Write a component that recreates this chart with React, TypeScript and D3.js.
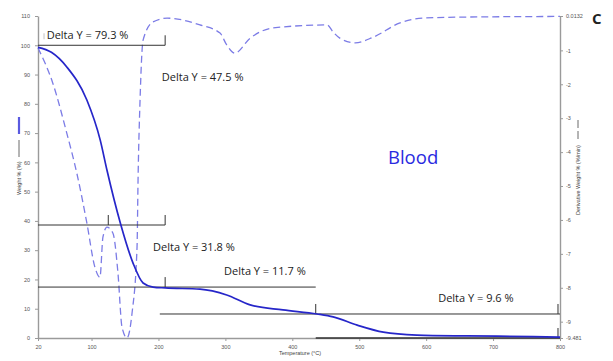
import React, { useEffect, useRef } from 'react';
import * as d3 from 'd3';

// Weight % curve (temperature °C, weight %)
const weightTemp = [20, 40, 63, 93, 113, 123, 143, 162, 177, 192, 210, 262, 302, 337, 386, 437, 461, 497, 536, 586, 661, 760, 800];
const weightVals = [99.3, 97.6, 92.6, 81.3, 67.6, 57.4, 39.3, 25.6, 18.8, 17.4, 17.1, 16.7, 14.7, 11.3, 9.6, 8.2, 7.2, 4.4, 2.0, 1.0, 0.7, 0.5, 0.3];

// Derivative weight curve (temperature °C, %/min)
const derivTemp = [20, 42, 63, 78, 93, 105, 112.6, 117, 123, 132, 139.5, 145.5, 153, 160.5, 168, 169.5, 172.5, 177, 192, 213, 262, 292, 302, 314, 337, 371, 452, 461, 471, 494, 521, 561, 595, 651, 800];
const derivVals = [-0.93, -1.96, -3.44, -4.62, -6.09, -7.39, -7.69, -6.51, -6.21, -6.39, -7.57, -9.16, -9.48, -8.75, -6.8, -4.82, -2.46, -0.7, -0.16, -0.05, -0.25, -0.49, -0.84, -1.08, -0.64, -0.34, -0.25, -0.46, -0.64, -0.78, -0.61, -0.19, -0.05, -0.02, 0.0];

// Axis ticks
const tempTicks = [20, 100, 200, 300, 400, 500, 600, 700, 800];
const weightTicks = [0, 10, 20, 30, 40, 50, 60, 70, 80, 90, 100, 110];
const derivTicks = [0.0132, -1, -2, -3, -4, -5, -6, -7, -8, -9, -9.481];

// Delta Y brackets: level (weight %), from / to temperature, tick temperatures
const bracketLevels = [100, 38.6, 17.4, 8.2, 0];
const bracketFrom = [20, 20, 20, 202, 435];
const bracketTo = [210, 210, 435, 800, 800];
const bracketTicks = [[210], [125, 210], [210], [435, 797], [797]];

// Delta Y labels
const deltaLabels = ['Delta Y = 79.3 %', 'Delta Y = 47.5 %', 'Delta Y = 31.8 %', 'Delta Y = 11.7 %', 'Delta Y = 9.6 %'];
const deltaTemp = [33, 205, 192, 298, 618];
const deltaWeight = [102.3, 87.8, 29.7, 21.5, 12.3];

const App = () => {
    const svgRef = useRef<SVGSVGElement | null>(null);

    useEffect(() => {
        const width = 613;
        const height = 361;
        const left = 38;
        const right = 560;
        const top = 16;
        const bottom = 338;
        const axisColor = '#9a9a9a';
        const tickText = '#555';
        const font = "'Open Sans', 'Liberation Sans', sans-serif";

        const svg = d3.select(svgRef.current);
        svg.selectAll('*').remove();
        svg.attr('width', width).attr('height', height);

        const x = d3.scaleLinear().domain([20, 800]).range([left, right]);
        const yW = d3.scaleLinear().domain([0, 110]).range([bottom, top]);
        const yD = d3.scaleLinear().domain([-9.481, 0.0132]).range([bottom, top]);

        // axes
        const styleAxis = (g: any) => {
            g.select('.domain').attr('stroke', axisColor).attr('stroke-width', 1.4);
            g.selectAll('.tick line').attr('stroke', axisColor);
            g.selectAll('.tick text')
                .attr('fill', tickText)
                .style('font-size', '5.5px')
                .style('font-family', "'Liberation Sans', sans-serif");
        };

        svg.append('g')
            .attr('transform', `translate(${left},0)`)
            .call(d3.axisLeft(yW).tickValues(weightTicks).tickSize(3).tickSizeOuter(0).tickPadding(5))
            .call(styleAxis);

        svg.append('g')
            .attr('transform', `translate(0,${bottom})`)
            .call(d3.axisBottom(x).tickValues(tempTicks).tickSize(3).tickSizeOuter(0).tickPadding(4))
            .call(styleAxis);

        svg.append('g')
            .attr('transform', `translate(${right},0)`)
            .call(d3.axisRight(yD).tickValues(derivTicks).tickSize(3).tickSizeOuter(0).tickPadding(3)
                .tickFormat(d => String(d)))
            .call(styleAxis);

        // axis titles
        svg.append('text')
            .attr('x', (left + right) / 2 + 1)
            .attr('y', 355)
            .attr('text-anchor', 'middle')
            .attr('fill', '#444')
            .style('font-size', '5.5px')
            .style('font-family', "'Liberation Sans', sans-serif")
            .text('Temperature (°C)');

        const leftTitle = svg.append('g').attr('transform', 'translate(21,195) rotate(-90)');
        leftTitle.append('text')
            .attr('x', 0).attr('y', 0)
            .attr('fill', '#444')
            .style('font-size', '5.5px')
            .style('font-family', "'Liberation Sans', sans-serif")
            .text('Weight % (%)');
        leftTitle.append('line')
            .attr('x1', 38).attr('x2', 55).attr('y1', -2).attr('y2', -2)
            .attr('stroke', '#444').attr('stroke-width', 0.8);
        leftTitle.append('line')
            .attr('x1', 61).attr('x2', 78).attr('y1', -2).attr('y2', -2)
            .attr('stroke', '#5a5ae0').attr('stroke-width', 2.2);

        const rightTitle = svg.append('g').attr('transform', 'translate(580,215) rotate(-90)');
        rightTitle.append('text')
            .attr('x', 0).attr('y', 0)
            .attr('fill', '#444')
            .style('font-size', '5.5px')
            .style('font-family', "'Liberation Sans', sans-serif")
            .text('Derivative Weight % (%/min)');
        rightTitle.append('line')
            .attr('x1', 76).attr('x2', 95).attr('y1', -2).attr('y2', -2)
            .attr('stroke', '#444').attr('stroke-width', 0.8)
            .attr('stroke-dasharray', '8,3');

        // curves
        const weightLine = d3.line<number>()
            .x((d, i) => x(weightTemp[i]))
            .y(d => yW(d))
            .curve(d3.curveMonotoneX);

        const derivLine = d3.line<number>()
            .x((d, i) => x(derivTemp[i]))
            .y(d => yD(d))
            .curve(d3.curveMonotoneX);

        svg.append('path')
            .attr('d', derivLine(derivVals))
            .attr('fill', 'none')
            .attr('stroke', '#7c7ce6')
            .attr('stroke-width', 1.3)
            .attr('stroke-dasharray', '7,4');

        // Delta Y brackets
        bracketLevels.forEach((level, i) => {
            const yy = yW(level);
            svg.append('line')
                .attr('x1', x(bracketFrom[i])).attr('x2', x(bracketTo[i]))
                .attr('y1', yy).attr('y2', yy)
                .attr('stroke', '#333')
                .attr('stroke-width', i === 4 ? 1.6 : 1);
            bracketTicks[i].forEach(t => {
                svg.append('line')
                    .attr('x1', x(t)).attr('x2', x(t))
                    .attr('y1', yy).attr('y2', yy - 10)
                    .attr('stroke', '#333')
                    .attr('stroke-width', 1);
            });
        });

        // faint start marker of the first bracket
        svg.append('line')
            .attr('x1', x(29)).attr('x2', x(29))
            .attr('y1', yW(100) - 12).attr('y2', yW(100) - 6)
            .attr('stroke', '#c4c4c4')
            .attr('stroke-width', 1);

        svg.append('path')
            .attr('d', weightLine(weightVals))
            .attr('fill', 'none')
            .attr('stroke', '#2626c9')
            .attr('stroke-width', 1.7);

        deltaLabels.forEach((label, i) => {
            svg.append('text')
                .attr('x', x(deltaTemp[i]))
                .attr('y', yW(deltaWeight[i]))
                .attr('fill', '#222')
                .style('font-size', '11px')
                .style('font-family', font)
                .text(label);
        });

        svg.append('text')
            .attr('x', 388)
            .attr('y', 164)
            .attr('fill', '#2a2ae0')
            .style('font-size', '18.5px')
            .style('font-family', font)
            .text('Blood');

        svg.append('text')
            .attr('x', 592)
            .attr('y', 24)
            .attr('fill', '#222')
            .style('font-size', '15px')
            .style('font-weight', 'bold')
            .style('font-family', font)
            .text('C');
    }, []);

    return (
        <div style={{ position: 'absolute', left: 0, top: 0, width: 613, height: 361 }}>
            <svg ref={svgRef} style={{ display: 'block' }}></svg>
        </div>
    );
};

export default App;
